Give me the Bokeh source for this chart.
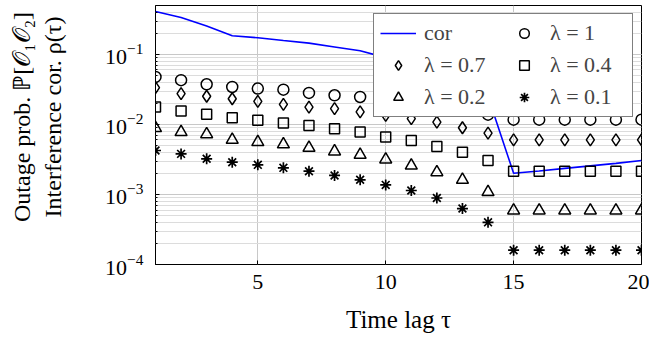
from bokeh.plotting import figure
from bokeh.models import Legend, LegendItem, FixedTicker, Range1d
from bokeh.embed import file_html
from bokeh.resources import INLINE

tau = list(range(1, 21))
cor = [0.41, 0.338, 0.254, 0.185, 0.173, 0.158, 0.145, 0.128, 0.113, 0.09,
       0.072, 0.056, 0.041, 0.025, 0.00201, 0.00217, 0.00236, 0.00256, 0.00278, 0.00306]
lam_1 = [0.0478, 0.0429, 0.0375, 0.0343, 0.0325, 0.0314, 0.0282, 0.0261, 0.0247, 0.023,
         0.021, 0.0178, 0.0167, 0.0138, 0.0117, 0.0117, 0.0117, 0.0117, 0.0117, 0.0117]
lam_07 = [0.0336, 0.0275, 0.0253, 0.0233, 0.0214, 0.0194, 0.0177, 0.0168, 0.0151, 0.0135,
          0.0121, 0.0108, 0.00898, 0.00753, 0.00604, 0.00604, 0.00604, 0.00604, 0.00604, 0.00604]
lam_04 = [0.0177, 0.0156, 0.014, 0.0125, 0.0115, 0.0105, 0.0097, 0.00867, 0.00778, 0.0066,
          0.0059, 0.00485, 0.00402, 0.00306, 0.00215, 0.00215, 0.00215, 0.00215, 0.00215, 0.00215]
lam_02 = [0.00887, 0.00778, 0.00724, 0.00604, 0.0056, 0.00519, 0.00464, 0.00412, 0.00368, 0.00316,
          0.00259, 0.00208, 0.00162, 0.00108, 0.00059, 0.00059, 0.00059, 0.00059, 0.00059, 0.00059]
lam_01 = [0.00425, 0.0038, 0.00323, 0.00289, 0.00265, 0.0024, 0.00215, 0.00187, 0.00162, 0.00137,
          0.00114, 0.00089, 0.00063, 0.0004, 0.00016, 0.00016, 0.00016, 0.00016, 0.00016, 0.00016]
x_ticks = [5, 10, 15, 20]

FONT = "Liberation Serif"

p = figure(frame_width=486, frame_height=259, output_backend="svg", toolbar_location=None,
           y_axis_type="log", x_range=Range1d(1, 20), y_range=Range1d(1e-4, 0.5),
           min_border_left=155, min_border_right=8, min_border_top=5, min_border_bottom=40)
p.background_fill_color = "white"
p.border_fill_color = "white"
p.outline_line_color = "black"
p.outline_line_width = 1

line = p.line(tau, cor, line_color="#0000ff", line_width=1.6)
c1 = p.scatter(tau, lam_1, marker="circle", size=11, fill_color=None, line_color="black", line_width=1.5)
c07 = p.scatter(tau, lam_07, marker="diamond", size=12, fill_color=None, line_color="black", line_width=1.5)
c04 = p.scatter(tau, lam_04, marker="square", size=10, fill_color=None, line_color="black", line_width=1.5)
c02 = p.scatter(tau, lam_02, marker="triangle", size=12, fill_color=None, line_color="black", line_width=1.5)
c01 = p.scatter(tau, lam_01, marker="asterisk", size=11, line_color="black", line_width=1.7)

p.xaxis.ticker = FixedTicker(ticks=x_ticks)
p.xgrid.ticker = FixedTicker(ticks=x_ticks)
p.xgrid.grid_line_color = "#c8c8c8"
p.ygrid.grid_line_color = "#c8c8c8"
p.ygrid.minor_grid_line_color = "#dcdcdc"

for ax in (p.xaxis, p.yaxis):
    ax.axis_line_color = None
    ax.major_tick_in = 4
    ax.major_tick_out = 0
    ax.minor_tick_in = 2
    ax.minor_tick_out = 0
    ax.major_label_text_font = FONT
    ax.major_label_text_font_size = "22px"
    ax.major_label_text_color = "black"
    ax.axis_label_text_font = FONT
    ax.axis_label_text_font_style = "normal"
    ax.axis_label_text_color = "black"
p.xaxis.axis_label_text_font_size = "25px"
p.yaxis.axis_label_text_font_size = "24px"
p.xaxis.minor_tick_line_color = None
p.xaxis.major_label_standoff = 10
p.yaxis.major_label_standoff = 12
p.xaxis.axis_label_standoff = 14
p.yaxis.axis_label_standoff = 36
p.xaxis.axis_label = "Time lag τ"
pad = "\u2002\u2002\u2002"
p.yaxis.axis_label = pad + "Outage prob. ℙ[𝒪₁𝒪₂]\n" + pad + "Interference cor. ρ(τ)"

legend = Legend(items=[
    LegendItem(label="cor", renderers=[line]),
    LegendItem(label="λ = 0.7", renderers=[c07]),
    LegendItem(label="λ = 0.2", renderers=[c02]),
    LegendItem(label="λ = 1", renderers=[c1]),
    LegendItem(label="λ = 0.4", renderers=[c04]),
    LegendItem(label="λ = 0.1", renderers=[c01]),
], ncols=2, location="top_right")
legend.label_text_font = FONT
legend.label_text_font_size = "22px"
legend.border_line_color = "black"
legend.border_line_width = 1
legend.background_fill_alpha = 1
legend.glyph_width = 36
legend.glyph_height = 24
legend.label_height = 24
legend.label_width = 76
legend.label_standoff = 8
legend.spacing = 6
legend.padding = 6
legend.margin = 8
p.add_layout(legend)

open("out.html", "w").write(file_html(p, INLINE))
